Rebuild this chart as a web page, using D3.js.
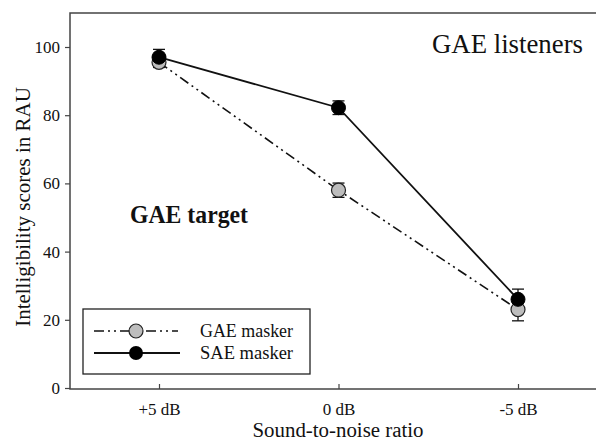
<!DOCTYPE html>
<html><head><meta charset="utf-8">
<script src="https://cdn.jsdelivr.net/npm/d3@7"></script>
<style>body{margin:0;background:#fff}svg{display:block}svg text{font-family:"Liberation Serif"}</style>
</head><body>
<svg id="c" width="596" height="448"></svg>
<script>
const categories = ["+5 dB", "0 dB", "-5 dB"];
const gaeMasker = [95.5, 58, 23];
const gaeErr = [1.5, 2.1, 3.3];
const saeMasker = [97, 82.2, 26];
const saeErr = [2.3, 2, 3];
const yTicks = [0, 20, 40, 60, 80, 100];
const seriesNames = ["GAE masker", "SAE masker"];

(function () {
const svg = d3.select("#c");
const font = '"Liberation Serif"';
const pLeft = 70, pRight = 608, pTop = 13, pBottom = 389;
const x = d3.scalePoint().domain(categories).range([159, 518]).padding(0);
const y = d3.scaleLinear().domain([0, 110]).range([pBottom - 1, pBottom - 1 - 110 * 3.41]);

function txt(sel, size, weight) {
  return sel.style("font-family", font).style("font-size", size + "px")
    .style("font-weight", weight || "normal").attr("fill", "#111");
}

// frame
svg.append("rect").attr("x", pLeft).attr("y", pTop).attr("width", pRight - pLeft).attr("height", pBottom - pTop)
  .attr("fill", "none").attr("stroke", "#444").attr("stroke-width", 1.5);

// axes
const yAxis = svg.append("g").attr("transform", `translate(${pLeft},0)`)
  .call(d3.axisLeft(y).tickValues(yTicks).tickSize(5).tickPadding(5));
yAxis.attr("font-family", null).attr("font-size", null);
yAxis.select(".domain").remove();
yAxis.selectAll("line").attr("stroke", "#444").attr("stroke-width", 1.2);
txt(yAxis.selectAll("text"), 17);

const xAxis = svg.append("g").attr("transform", `translate(0,${pBottom})`)
  .call(d3.axisBottom(x).tickSize(-5).tickPadding(0));
xAxis.attr("font-family", null).attr("font-size", null);
xAxis.select(".domain").remove();
xAxis.selectAll("line").attr("stroke", "#444").attr("stroke-width", 1.2);
txt(xAxis.selectAll("text"), 17).attr("dy", null).attr("y", 26);

// lines
const line = d3.line().x((d, i) => x(categories[i])).y(d => y(d));
svg.append("path").datum(gaeMasker).attr("d", line).attr("fill", "none")
  .attr("stroke", "#111").attr("stroke-width", 1.6).attr("stroke-dasharray", "10,4,2,4,2,4");
svg.append("path").datum(saeMasker).attr("d", line).attr("fill", "none")
  .attr("stroke", "#111").attr("stroke-width", 1.8);

function errBars(vals, errs) {
  const g = svg.append("g").attr("stroke", "#111").attr("stroke-width", 1.3);
  vals.forEach((v, i) => {
    const cx = x(categories[i]);
    g.append("line").attr("x1", cx).attr("x2", cx).attr("y1", y(v - errs[i])).attr("y2", y(v + errs[i]));
    [v - errs[i], v + errs[i]].forEach(e => g.append("line").attr("x1", cx - 6).attr("x2", cx + 6).attr("y1", y(e)).attr("y2", y(e)));
  });
}
errBars(gaeMasker, gaeErr);
errBars(saeMasker, saeErr);

svg.append("g").selectAll("circle").data(gaeMasker).join("circle")
  .attr("cx", (d, i) => x(categories[i])).attr("cy", d => y(d)).attr("r", 7)
  .attr("fill", "#bdbdbd").attr("stroke", "#222").attr("stroke-width", 1.2);
svg.append("g").selectAll("circle").data(saeMasker).join("circle")
  .attr("cx", (d, i) => x(categories[i])).attr("cy", d => y(d)).attr("r", 7)
  .attr("fill", "#000").attr("stroke", "#000").attr("stroke-width", 1);

// legend
const lg = svg.append("g");
lg.append("rect").attr("x", 83).attr("y", 309).attr("width", 227).attr("height", 65)
  .attr("fill", "#fff").attr("stroke", "#222").attr("stroke-width", 1.3);
const rows = [331, 353];
lg.append("line").attr("x1", 94).attr("x2", 178).attr("y1", rows[0]).attr("y2", rows[0])
  .attr("stroke", "#111").attr("stroke-width", 1.6).attr("stroke-dasharray", "10,4,2,4,2,4");
lg.append("line").attr("x1", 94).attr("x2", 180).attr("y1", rows[1]).attr("y2", rows[1])
  .attr("stroke", "#111").attr("stroke-width", 1.8);
lg.append("circle").attr("cx", 136).attr("cy", rows[0]).attr("r", 7).attr("fill", "#bdbdbd").attr("stroke", "#222").attr("stroke-width", 1.2);
lg.append("circle").attr("cx", 136).attr("cy", rows[1]).attr("r", 7).attr("fill", "#000");
seriesNames.forEach((n, i) => txt(lg.append("text"), 18.5).attr("x", 200).attr("y", rows[i] + 6)
  .attr("textLength", 93).attr("lengthAdjust", "spacingAndGlyphs").text(n));

// annotations
txt(svg.append("text"), 28).attr("x", 432).attr("y", 53)
  .attr("textLength", 151).attr("lengthAdjust", "spacingAndGlyphs").text("GAE listeners");
txt(svg.append("text"), 25, "bold").attr("x", 130).attr("y", 222.5)
  .attr("textLength", 118).attr("lengthAdjust", "spacingAndGlyphs").text("GAE target");

// axis titles
txt(svg.append("text"), 21).attr("transform", "translate(30,207) rotate(-90)").attr("text-anchor", "middle")
  .text("Intelligibility scores in RAU");
txt(svg.append("text"), 20).attr("x", 338).attr("y", 437).attr("text-anchor", "middle")
  .attr("textLength", 171).attr("lengthAdjust", "spacingAndGlyphs").text("Sound-to-noise ratio");
})();
</script>
</body></html>
